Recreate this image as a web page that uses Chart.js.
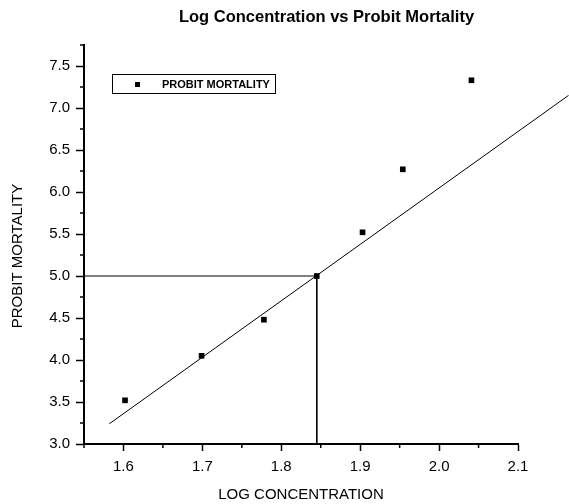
<!DOCTYPE html>
<html>
<head>
<meta charset="utf-8">
<script src="https://cdn.jsdelivr.net/npm/chart.js@4.4.1/dist/chart.umd.min.js"></script>
<style>
  html, body { margin: 0; padding: 0; background: #fff; }
</style>
</head>
<body>
<canvas id="probitChart" width="569" height="504"></canvas>
<script>
// values
const logConc = [1.602, 1.699, 1.778, 1.845, 1.903, 1.954, 2.041];
const probit = [3.52, 4.05, 4.48, 5.00, 5.52, 6.27, 7.33];
const fitX = [1.582, 2.164];
const fitY = [3.24, 7.15];
const lc50X = 1.845;
const lc50Y = 5.0;
const xTicks = [1.6, 1.7, 1.8, 1.9, 2.0, 2.1];
const yTicks = [3.0, 3.5, 4.0, 4.5, 5.0, 5.5, 6.0, 6.5, 7.0, 7.5];
const xMin = 1.55, xMax = 2.1;
const yMin = 3.0, yMax = 7.75;

const font = "'Liberation Sans', Arial, sans-serif";
const isMajor = (list, v) => list.some(t => Math.abs(t - v) < 1e-6);

const scatterData = logConc.map((x, i) => ({ x: x, y: probit[i] }));
const fitData = fitX.map((x, i) => ({ x: x, y: fitY[i] }));

// minor ticks, legend box and titles
const extras = {
  id: 'extras',
  afterDraw(chart) {
    const ctx = chart.ctx;
    const xs = chart.scales.x, ys = chart.scales.y;
    const area = chart.chartArea;
    ctx.save();
    ctx.strokeStyle = '#000';
    ctx.lineWidth = 1.5;
    ctx.beginPath();
    xs.ticks.forEach(t => {
      if (!isMajor(xTicks, t.value)) {
        const px = xs.getPixelForValue(t.value);
        ctx.moveTo(px, area.bottom);
        ctx.lineTo(px, area.bottom + 4);
      }
    });
    ys.ticks.forEach(t => {
      if (!isMajor(yTicks, t.value)) {
        const py = ys.getPixelForValue(t.value);
        ctx.moveTo(area.left, py);
        ctx.lineTo(area.left - 4, py);
      }
    });
    ctx.stroke();

    // legend
    const lx = area.left + 28, ly = area.top + 29;
    ctx.lineWidth = 1;
    ctx.strokeRect(lx + 0.5, ly + 0.5, 163, 19);
    ctx.fillStyle = '#000';
    ctx.fillRect(lx + 23, ly + 8, 5, 5);
    ctx.font = 'bold 11px ' + font;
    ctx.textBaseline = 'middle';
    ctx.textAlign = 'left';
    ctx.fillText('PROBIT MORTALITY', lx + 50, ly + 10.5);

    // main title
    ctx.font = 'bold 16.5px ' + font;
    ctx.textAlign = 'center';
    ctx.fillText('Log Concentration vs Probit Mortality', 326.5, 17.5);

    // y axis title
    ctx.font = '15px ' + font;
    ctx.translate(18, 256);
    ctx.rotate(-Math.PI / 2);
    ctx.fillText('PROBIT MORTALITY', 0, 0);
    ctx.restore();
  }
};

new Chart(document.getElementById('probitChart').getContext('2d'), {
  type: 'scatter',
  data: {
    datasets: [
      {
        label: 'PROBIT MORTALITY',
        data: scatterData,
        pointStyle: 'rect',
        pointRadius: 4,
        backgroundColor: '#000',
        borderColor: '#000',
        borderWidth: 0
      },
      {
        label: 'fit',
        data: fitData,
        showLine: true,
        pointRadius: 0,
        borderColor: '#000',
        borderWidth: 1,
        clip: false
      },
      {
        label: 'lc50 h',
        data: [{ x: xMin, y: lc50Y }, { x: lc50X, y: lc50Y }],
        showLine: true,
        pointRadius: 0,
        borderColor: '#000',
        borderWidth: 1
      },
      {
        label: 'lc50 v',
        data: [{ x: lc50X, y: lc50Y }, { x: lc50X, y: yMin }],
        showLine: true,
        pointRadius: 0,
        borderColor: '#000',
        borderWidth: 1
      }
    ]
  },
  options: {
    responsive: false,
    animation: false,
    layout: { padding: { top: 45, right: 51, bottom: 0, left: 0 } },
    plugins: { legend: { display: false }, tooltip: { enabled: false } },
    scales: {
      x: {
        type: 'linear',
        min: xMin,
        max: xMax,
        afterFit: s => { s.height = 60; },
        border: { color: '#000', width: 2 },
        grid: {
          drawOnChartArea: false,
          tickLength: 7,
          tickWidth: 1.5,
          tickColor: c => isMajor(xTicks, c.tick.value) ? '#000' : 'rgba(0,0,0,0)'
        },
        ticks: {
          stepSize: 0.05,
          color: '#000',
          padding: 7,
          maxRotation: 0,
          autoSkip: false,
          font: { family: font, size: 15 },
          callback: v => isMajor(xTicks, v) ? v.toFixed(1) : ''
        },
        title: {
          display: true,
          text: 'LOG CONCENTRATION',
          color: '#000',
          font: { family: font, size: 15 },
          padding: { top: 0, bottom: 0 }
        }
      },
      y: {
        type: 'linear',
        min: yMin,
        max: yMax,
        afterFit: s => { s.width = 84; },
        border: { color: '#000', width: 2 },
        grid: {
          drawOnChartArea: false,
          tickLength: 8,
          tickWidth: 1.5,
          tickColor: c => isMajor(yTicks, c.tick.value) ? '#000' : 'rgba(0,0,0,0)'
        },
        ticks: {
          stepSize: 0.25,
          color: '#000',
          padding: 6,
          autoSkip: false,
          font: { family: font, size: 15 },
          callback: v => isMajor(yTicks, v) ? v.toFixed(1) : ''
        }
      }
    }
  },
  plugins: [extras]
});
</script>
</body>
</html>
